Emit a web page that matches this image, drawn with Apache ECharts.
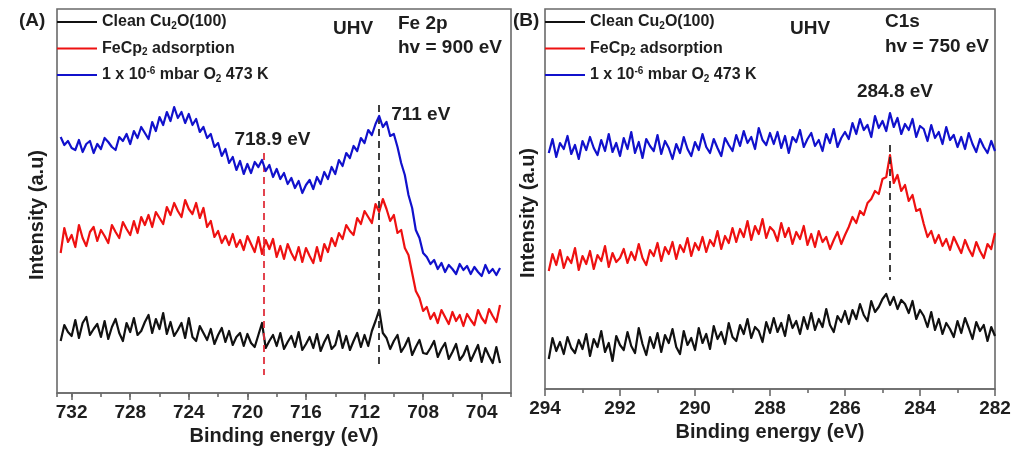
<!DOCTYPE html>
<html>
<head>
<meta charset="utf-8">
<script src="https://cdn.jsdelivr.net/npm/echarts@6/dist/echarts.min.js"></script>
<style>
  html, body { margin: 0; padding: 0; background: #fff; }
  #chart { width: 1022px; height: 450px; }
</style>
</head>
<body>
<div id="chart"></div>
<script>
// ---- Fe 2p spectra, sampled every 0.25 eV from 732.75 eV down to 702.75 eV ----
const fe2pStart = 732.75;
const fe2pStep = 0.25;
const fe2pClean = [
  52,68,61,57,73,55,70,76,58,64,
  69,56,72,54,66,74,60,52,70,61,
  75,58,62,71,78,60,74,64,80,59,
  71,57,63,70,55,75,56,52,67,60,
  53,64,49,58,65,51,62,48,56,60,
  47,59,50,46,58,70,45,52,58,47,
  60,44,51,57,46,61,43,49,56,45,
  59,42,51,58,44,48,62,45,57,43,
  52,60,46,58,47,62,72,83,60,55,
  44,52,58,41,47,55,38,46,53,40,
  39,45,52,36,44,50,34,41,49,33,
  38,47,32,40,48,31,45,37,30,46,
  30
];
const fe2pFeCp2 = [
  140,165,151,158,146,168,155,147,161,166,
  152,163,157,150,168,161,155,171,164,158,
  172,160,176,168,178,166,181,175,169,186,
  178,190,182,176,193,184,179,190,175,185,
  166,172,156,162,150,157,148,159,146,153,
  143,157,149,141,156,139,153,144,154,136,
  147,134,149,140,133,146,131,145,137,130,
  146,132,149,141,155,147,160,154,168,162,
  158,175,169,182,176,170,189,181,194,184,
  172,178,160,163,145,138,120,102,95,82,
  86,74,80,70,83,76,69,81,72,78,
  67,79,73,68,83,75,70,84,77,71,
  88
];
const fe2pOxidized = [
  256,248,252,245,243,253,241,249,252,240,
  249,244,255,251,246,243,256,252,259,249,
  262,255,266,260,254,271,262,276,268,281,
  272,286,275,281,270,279,268,274,261,266,
  255,259,246,250,237,244,230,236,223,232,
  219,229,220,231,226,233,222,228,216,224,
  214,220,209,215,205,212,200,208,213,204,
  216,209,221,214,226,219,233,227,240,235,
  247,242,255,250,263,258,269,277,266,271,
  257,259,246,230,218,198,185,163,155,140,
  136,129,133,124,130,121,128,124,119,129,
  123,127,119,126,121,117,128,120,124,118,
  125
];

// ---- C 1s spectra, sampled every 0.1 eV from 293.9 eV down to 282.0 eV ----
const c1sStart = 293.9;
const c1sStep = 0.1;
const c1sClean = [
  30,51,38,47,35,52,41,36,49,40,
  55,33,50,42,58,37,46,28,53,44,
  39,57,43,36,61,45,34,52,41,56,
  37,54,46,60,42,35,58,44,51,39,
  61,46,55,40,63,50,57,45,66,52,
  48,64,55,70,51,62,58,47,67,56,
  71,57,66,53,74,61,68,55,72,60,
  76,59,70,62,80,64,57,73,67,78,
  65,79,70,85,74,68,88,77,82,90,
  95,84,92,80,89,85,76,88,70,79,
  73,62,77,59,70,55,66,60,52,68,
  56,71,61,50,67,58,64,48,62,53
];
const c1sFeCp2 = [
  118,135,124,139,121,132,126,141,119,133,
  125,138,120,134,128,143,122,136,127,131,
  140,126,137,129,145,131,124,139,133,146,
  128,142,135,147,130,144,137,151,133,146,
  139,152,137,149,143,158,140,153,146,161,
  147,160,152,168,149,163,155,170,151,162,
  158,148,166,152,161,145,157,150,163,144,
  155,142,158,147,152,140,149,157,145,154,
  162,172,166,178,174,186,190,198,195,210,
  212,234,206,214,198,204,188,194,178,180,
  165,152,158,146,154,143,150,139,152,144,
  136,149,140,133,147,138,131,145,140,156
];
const c1sOxidized = [
  236,250,232,246,240,253,235,244,230,248,
  239,252,241,234,249,238,255,237,246,233,
  251,240,257,236,247,231,250,243,238,254,
  235,248,241,230,245,236,252,240,233,247,
  239,255,242,236,250,241,233,251,244,238,
  254,243,258,246,252,240,261,249,244,256,
  245,257,241,253,236,252,247,259,242,250,
  256,243,249,238,255,246,260,242,251,257,
  250,266,255,270,259,264,252,273,261,268,
  258,276,262,271,255,265,259,270,252,263,
  260,248,264,251,257,245,262,249,254,242,
  252,240,256,245,237,250,242,236,248,238
];

// ---- labels, ticks, peaks ----
const seriesNames = ['Clean Cu2O(100)', 'FeCp2 adsorption', '1 x 10-6 mbar O2 473 K'];
const legendRich = ['Clean Cu{sub|2}O(100)', 'FeCp{sub|2} adsorption', '1 x 10{sup|-6} mbar O{sub|2} 473 K'];
const seriesColors = ['#111111', '#ee1111', '#1111cc'];
const fe2pTicks = [704, 708, 712, 716, 720, 724, 728, 732];
const fe2pPeaks = [718.9, 711];
const c1sPeaks = [284.8];

const FONT = '"Liberation Sans", Arial, Helvetica, sans-serif';
const AXIS_GRAY = '#6a6a6a';
const TEXT = '#1e1e1e';

function toPairs(start, step, values) {
  return values.map((v, i) => [Number((start - i * step).toFixed(2)), v]);
}

const fe2pData = [fe2pClean, fe2pFeCp2, fe2pOxidized].map(v => toPairs(fe2pStart, fe2pStep, v));
const c1sData = [c1sClean, c1sFeCp2, c1sOxidized].map(v => toPairs(c1sStart, c1sStep, v));

const bold19 = { fontFamily: FONT, fontWeight: 'bold', fontSize: 19, color: TEXT };
const bold20 = { fontFamily: FONT, fontWeight: 'bold', fontSize: 20, color: TEXT };

function peakLabel(text, offset, position, distance) {
  return {
    show: true, formatter: text, position: position || 'inside', distance: distance || 5,
    offset: offset || [0, 0], ...bold19
  };
}

function dashed(color) {
  return { type: [7, 5], width: 1.8, color: color };
}

function lineSeries(panel, idx, data) {
  return {
    type: 'line', name: seriesNames[idx], data: data,
    xAxisIndex: panel === 0 ? 0 : 2, yAxisIndex: panel,
    symbol: 'none', showSymbol: false, animation: false,
    lineStyle: { width: 2.2, color: seriesColors[idx], join: 'round' },
    itemStyle: { color: seriesColors[idx] },
    z: 3 + idx
  };
}

const series = [];
fe2pData.forEach((d, i) => series.push(lineSeries(0, i, d)));
c1sData.forEach((d, i) => series.push(lineSeries(1, i, d)));

// dashed guides at the satellite (718.9 eV) and main (711 eV) Fe 2p3/2 peaks
series[1].markLine = {
  silent: true, symbol: ['none', 'none'], animation: false, label: { show: false },
  lineStyle: dashed('#e0303c'),
  data: [[{ coord: [fe2pPeaks[0], 240] }, { coord: [fe2pPeaks[0], 18] }]]
};
series[1].markPoint = {
  silent: true, symbol: 'circle', symbolSize: 0, animation: false,
  data: [{ coord: [fe2pPeaks[0], 253], label: peakLabel(fe2pPeaks[0] + ' eV', [9, 0]) }]
};
series[0].markLine = {
  silent: true, symbol: ['none', 'none'], animation: false, label: { show: false },
  lineStyle: dashed('#2a2a2a'),
  data: [[{ coord: [fe2pPeaks[1], 288] }, { coord: [fe2pPeaks[1], 26] }]]
};
series[0].markPoint = {
  silent: true, symbol: 'circle', symbolSize: 0, animation: false,
  data: [{ coord: [fe2pPeaks[1], 278], label: peakLabel(fe2pPeaks[1] + ' eV', [0, 0], 'right', 12) }]
};
// dashed guide at the C 1s peak
series[3].markLine = {
  silent: true, symbol: ['none', 'none'], animation: false, label: { show: false },
  lineStyle: dashed('#2a2a2a'),
  data: [[{ coord: [c1sPeaks[0], 244] }, { coord: [c1sPeaks[0], 109] }]]
};
series[3].markPoint = {
  silent: true, symbol: 'circle', symbolSize: 0, animation: false,
  data: [{ coord: [c1sPeaks[0], 297], label: peakLabel(c1sPeaks[0] + ' eV', [5, 0]) }]
};

const legendCommon = {
  orient: 'vertical', top: 13, padding: 0, itemWidth: 40, itemHeight: 14, itemGap: 8.5,
  icon: 'path://M0,0 L40,0 L40,2 L0,2 Z',
  selectedMode: false,
  data: seriesNames,
  formatter: name => legendRich[seriesNames.indexOf(name)],
  textStyle: {
    fontFamily: FONT, fontWeight: 'bold', fontSize: 16, color: TEXT, lineHeight: 18,
    rich: {
      sub: { fontFamily: FONT, fontWeight: 'bold', fontSize: 10, color: TEXT, verticalAlign: 'bottom', lineHeight: 18 },
      sup: { fontFamily: FONT, fontWeight: 'bold', fontSize: 10, color: TEXT, verticalAlign: 'top', lineHeight: 18 }
    }
  }
};

function xAxisBase(grid, min, max) {
  return {
    type: 'value', gridIndex: grid, min: min, max: max, inverse: true, position: 'bottom',
    splitLine: { show: false },
    axisLine: { show: true, onZero: false, lineStyle: { color: AXIS_GRAY, width: 1.6 } }
  };
}

function yAxisBase(grid, max, gap) {
  return {
    type: 'value', gridIndex: grid, min: 0, max: max,
    axisLine: { show: false }, axisTick: { show: false }, axisLabel: { show: false },
    splitLine: { show: false },
    name: 'Intensity (a.u)', nameLocation: 'middle', nameGap: gap, nameRotate: 90,
    nameTextStyle: Object.assign({ padding: [0, 28, 0, 0] }, bold20)
  };
}

function note(text, x, y, size) {
  return {
    type: 'text', x: x, y: y, silent: true,
    style: { text: text, fontFamily: FONT, fontWeight: 'bold', fontSize: size, fill: TEXT, verticalAlign: 'middle' }
  };
}

const option = {
  backgroundColor: '#ffffff',
  animation: false,
  grid: [
    { left: 57, top: 9, width: 454, height: 384, show: true, borderColor: AXIS_GRAY, borderWidth: 1.6, backgroundColor: 'transparent', outerBoundsMode: 'none' },
    { left: 545, top: 9, width: 450, height: 380, show: true, borderColor: AXIS_GRAY, borderWidth: 1.6, backgroundColor: 'transparent', outerBoundsMode: 'none' }
  ],
  legend: [
    Object.assign({}, legendCommon, { left: 57 }),
    Object.assign({}, legendCommon, { left: 545 })
  ],
  xAxis: [
    Object.assign(xAxisBase(0, 702, 733), {
      axisTick: { show: true, customValues: fe2pTicks, length: 7, lineStyle: { color: AXIS_GRAY, width: 1.6 } },
      axisLabel: { show: true, customValues: fe2pTicks, margin: 10, ...bold19 },
      name: 'Binding energy (eV)', nameLocation: 'middle', nameGap: 33, nameTextStyle: bold20
    }),
    Object.assign(xAxisBase(0, 702, 733), {
      interval: 2,
      axisLine: { show: false },
      axisTick: { show: true, length: 4, lineStyle: { color: AXIS_GRAY, width: 1.6 } },
      axisLabel: { show: false }
    }),
    Object.assign(xAxisBase(1, 282, 294), {
      interval: 2,
      axisTick: { show: true, length: 7, lineStyle: { color: AXIS_GRAY, width: 1.6 } },
      minorTick: { show: true, splitNumber: 2, length: 4, lineStyle: { color: AXIS_GRAY, width: 1.6 } },
      axisLabel: { show: true, margin: 10, ...bold19 },
      name: 'Binding energy (eV)', nameLocation: 'middle', nameGap: 31, nameTextStyle: bold20
    })
  ],
  yAxis: [yAxisBase(0, 384, 10), yAxisBase(1, 380, 7)],
  graphic: [
    note('(A)', 19, 21, 19),
    note('UHV', 333, 29, 19),
    note('Fe 2p', 398, 24, 19),
    note('hv = 900 eV', 398, 48, 19),
    note('(B)', 513, 21, 19),
    note('UHV', 790, 29, 19),
    note('C1s', 885, 22, 19),
    note('hv = 750 eV', 885, 47, 19)
  ],
  series: series
};

const chart = echarts.init(document.getElementById('chart'), null, { renderer: 'canvas' });
chart.setOption(option);
</script>
</body>
</html>
